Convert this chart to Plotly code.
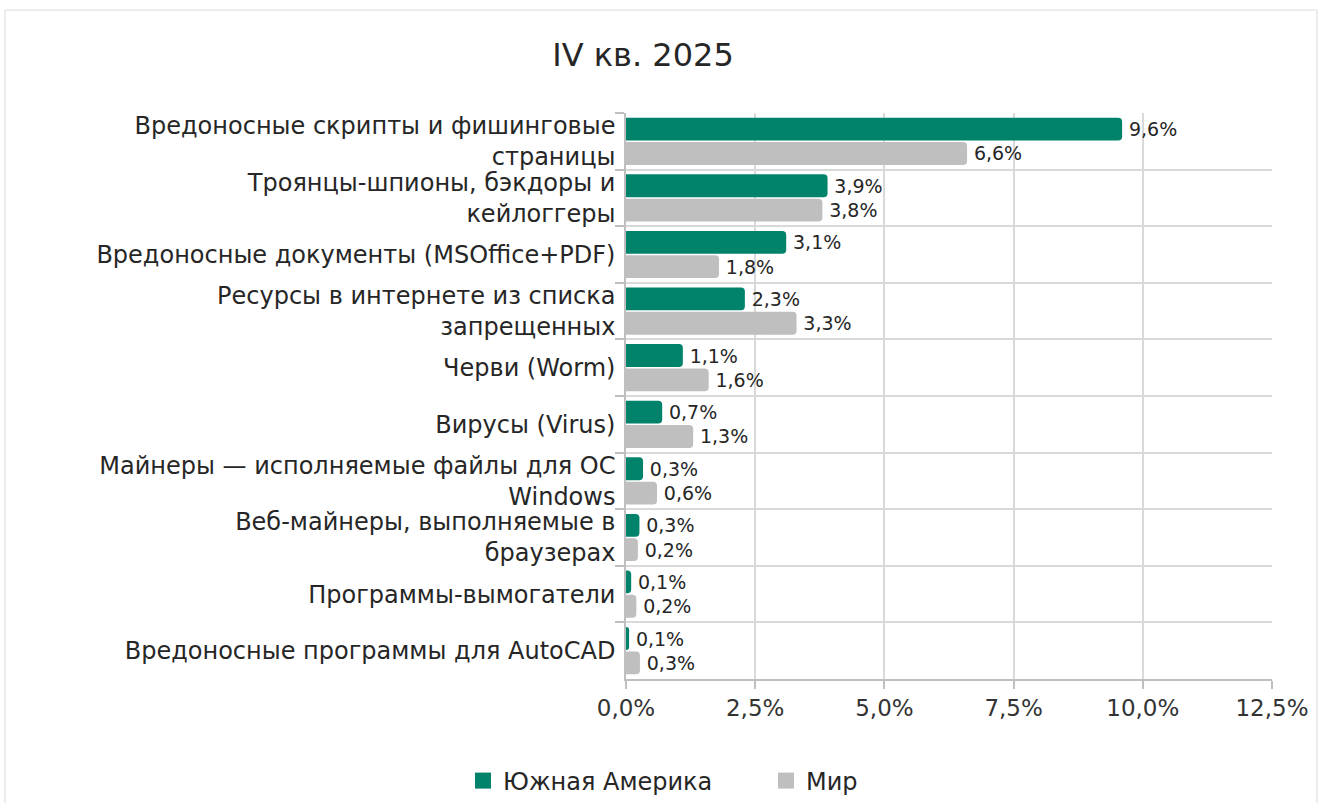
import plotly.graph_objects as go

categories = [
    "Вредоносные скрипты и фишинговые<br>страницы",
    "Троянцы-шпионы, бэкдоры и<br>кейлоггеры",
    "Вредоносные документы (MSOffice+PDF)",
    "Ресурсы в интернете из списка<br>запрещенных",
    "Черви (Worm)",
    "Вирусы (Virus)",
    "Майнеры — исполняемые файлы для ОС<br>Windows",
    "Веб-майнеры, выполняемые в<br>браузерах",
    "Программы-вымогатели",
    "Вредоносные программы для AutoCAD",
]
south_america = [9.6, 3.9, 3.1, 2.3, 1.1, 0.7, 0.33, 0.26, 0.1, 0.06]
world = [6.6, 3.8, 1.8, 3.3, 1.6, 1.3, 0.6, 0.23, 0.2, 0.27]
series_names = ["Южная Америка", "Мир"]
tick_vals = [0, 2.5, 5, 7.5, 10, 12.5]
tick_text = ["0,0%", "2,5%", "5,0%", "7,5%", "10,0%", "12,5%"]

GREEN = "#00826B"
GRAY = "#BFBFBF"
FONT = "DejaVu Sans"
TXT = "#262626"


def fmt(v):
    return "\u2009" + f"{v:.1f}".replace(".", ",") + "%"


fig = go.Figure()
for name, vals, col in [(series_names[0], south_america, GREEN), (series_names[1], world, GRAY)]:
    fig.add_trace(go.Bar(
        y=categories, x=vals, name=name, orientation="h",
        marker=dict(color=col, line=dict(width=0)),
        text=[fmt(v) for v in vals], textposition="outside",
        textfont=dict(size=19, color=TXT, family=FONT),
        cliponaxis=False, showlegend=False,
    ))
# legend entries with square symbols
for name, col in [(series_names[0], GREEN), (series_names[1], GRAY)]:
    fig.add_trace(go.Scatter(
        x=[None], y=[None], mode="markers", name=name,
        marker=dict(symbol="square", size=20, color=col), showlegend=True,
    ))

L, R, T, B = 626, 53, 113, 124
W, H = 1325, 803
pw, ph = W - L - R, H - T - B

fig.update_layout(
    width=W, height=H,
    margin=dict(l=L, r=R, t=T, b=B, autoexpand=False),
    paper_bgcolor="white", plot_bgcolor="white",
    separators=", ",
    barmode="group", bargap=0.14, bargroupgap=0.06,
    barcornerradius=4,
    font=dict(family=FONT, color=TXT),
    title=dict(text="IV кв. 2025", x=643 / W, xanchor="center", y=1 - 55 / H, yanchor="middle",
               font=dict(size=32, color=TXT, family=FONT)),
    legend=dict(orientation="h", x=(463 - L) / pw, xanchor="left", y=-(781 - (H - B)) / ph,
                yanchor="middle", font=dict(size=24, color=TXT, family=FONT),
                traceorder="normal", entrywidth=258, entrywidthmode="pixels"),
    showlegend=True,
)
fig.update_xaxes(
    range=[0, 12.5], tickmode="array", tickvals=tick_vals, ticktext=tick_text,
    showgrid=True, gridcolor="#D9D9D9", gridwidth=1.5,
    showline=True, linecolor="#BFBFBF", linewidth=1.5,
    ticks="outside", ticklen=8, tickcolor="#BFBFBF", tickwidth=1.5,
    tickfont=dict(size=23, color="#333333", family=FONT), zeroline=False,
    automargin=False,
)
fig.update_yaxes(
    autorange="reversed", tickson="boundaries",
    showgrid=True, gridcolor="#D9D9D9", gridwidth=1.5,
    showline=True, linecolor="#BFBFBF", linewidth=1.5,
    ticks="outside", ticklen=9, tickcolor="#BFBFBF", tickwidth=1.5,
    ticklabelstandoff=4,
    tickfont=dict(size=24, color=TXT, family=FONT), automargin=False,
)
fig.add_shape(type="rect", xref="paper", yref="paper",
              x0=(5 - L) / pw, x1=(1317 - L) / pw, y0=-(820 - (H - B)) / ph, y1=1 + (T - 10) / ph,
              line=dict(color="#D9D9D9", width=1), layer="below")

fig.write_html("out.html", config={"displayModeBar": False},
               post_script="document.body.style.margin='0';document.body.style.overflow='hidden';")
